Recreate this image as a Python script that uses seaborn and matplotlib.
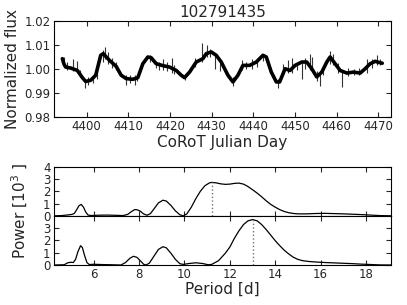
import matplotlib
matplotlib.use('Agg')
import matplotlib.pyplot as plt
import seaborn as sns
import pandas as pd

# light curve: trend
lc_time = [4394.2, 4394.6, 4395.0, 4396.2, 4397.8, 4399.0, 4399.8, 4401.0, 4402.2, 4403.4,
           4404.0, 4405.5, 4407.1, 4408.3, 4409.5, 4411.1, 4412.3, 4413.5, 4414.7, 4415.5,
           4416.7, 4418.3, 4419.9, 4421.5, 4422.7, 4423.5, 4424.7, 4426.3, 4427.9, 4428.7,
           4429.9, 4431.1, 4432.3, 4433.9, 4435.1, 4436.3, 4437.5, 4439.1, 4440.7, 4442.3,
           4443.1, 4444.3, 4445.5, 4446.3, 4447.6, 4448.8, 4450.0, 4451.6, 4452.8, 4454.0,
           4455.2, 4456.4, 4457.6, 4458.4, 4459.6, 4460.8, 4462.4, 4464.0, 4465.6, 4466.8,
           4468.0, 4469.2, 4470.4, 4470.9]
lc_flux = [1.0043, 1.0020, 1.0008, 1.0004, 0.9994, 0.9964, 0.9948, 0.9953, 0.9974, 1.0057,
           1.0064, 1.0036, 1.0011, 0.9974, 0.9960, 0.9957, 0.9964, 1.0022, 1.0050, 1.0047,
           1.0022, 1.0014, 1.0008, 0.9994, 0.9974, 0.9964, 0.9987, 1.0029, 1.0043, 1.0064,
           1.0071, 1.0057, 1.0029, 0.9974, 0.9946, 0.9974, 1.0015, 1.0015, 1.0029, 1.0057,
           1.0050, 0.9987, 0.9946, 0.9946, 1.0001, 0.9994, 1.0015, 1.0029, 1.0029, 1.0001,
           0.9967, 0.9987, 1.0029, 1.0050, 1.0022, 0.9994, 0.9983, 0.9987, 0.9983, 1.0001,
           1.0022, 1.0032, 1.0026, 1.0024]

# scatter spikes seen around the trend (time, low, high)
spike_t = [4394.6, 4395.4, 4396.8, 4397.6, 4398.4, 4399.6, 4400.4, 4401.6, 4402.6, 4404.0,
           4404.4, 4405.2, 4406.2, 4407.0, 4409.4, 4410.4, 4411.6, 4412.0, 4415.2, 4416.6,
           4417.4, 4418.4, 4419.4, 4420.4, 4421.0, 4423.6, 4426.0, 4427.6, 4428.8, 4429.6,
           4430.8, 4432.0, 4435.0, 4437.2, 4438.2, 4439.6, 4440.8, 4442.4, 4446.0, 4447.2,
           4448.4, 4449.2, 4450.4, 4451.6, 4452.4, 4453.6, 4454.0, 4455.2, 4456.0, 4456.8,
           4458.4, 4459.2, 4460.2, 4461.2, 4462.8, 4464.2, 4465.4, 4467.2, 4468.4, 4469.6,
           4470.4]
spike_lo = [1.0010, 0.9995, 0.9990, 0.9985, 0.9965, 0.9920, 0.9935, 0.9940, 0.9960, 1.0030,
            1.0040, 1.0020, 1.0005, 0.9995, 0.9932, 0.9940, 0.9934, 0.9950, 1.0030, 1.0005,
            0.9995, 0.9995, 0.9990, 0.9985, 0.9980, 0.9955, 1.0010, 1.0030, 1.0050, 1.0050,
            1.0000, 0.9990, 0.9930, 0.9995, 1.0000, 1.0000, 1.0010, 1.0035, 0.9920, 0.9975,
            0.9985, 0.9985, 0.9995, 0.9960, 1.0000, 0.9995, 0.9990, 0.9950, 0.9930, 0.9975,
            1.0020, 1.0015, 0.9985, 0.9925, 0.9970, 0.9975, 0.9975, 0.9985, 1.0005, 1.0015,
            1.0015]
spike_hi = [1.0050, 1.0030, 1.0043, 1.0035, 0.9995, 0.9960, 0.9965, 0.9975, 0.9995, 1.0080,
            1.0092, 1.0070, 1.0045, 1.0030, 0.9975, 0.9975, 0.9975, 0.9980, 1.0060, 1.0035,
            1.0030, 1.0043, 1.0030, 1.0046, 1.0015, 0.9980, 1.0046, 1.0110, 1.0099, 1.0085,
            1.0060, 1.0035, 0.9965, 1.0036, 1.0030, 1.0040, 1.0040, 1.0060, 0.9960, 1.0020,
            1.0036, 1.0046, 1.0030, 1.0025, 1.0045, 1.0064, 1.0050, 0.9990, 0.9975, 1.0010,
            1.0074, 1.0064, 1.0025, 0.9990, 1.0005, 1.0000, 1.0005, 1.0043, 1.0040, 1.0057,
            1.0040]

# periodograms
per_a = [4.25, 4.6, 4.9, 5.05, 5.15, 5.25, 5.35, 5.45, 5.55, 5.65, 5.75, 5.9, 6.2, 6.6, 7.0,
         7.3, 7.5, 7.65, 7.8, 7.9, 8.05, 8.2, 8.35, 8.5, 8.65, 8.85, 9.05, 9.2, 9.4, 9.6,
         9.8, 9.95, 10.1, 10.3, 10.5, 10.7, 10.9, 11.1, 11.2, 11.4, 11.6, 11.8, 12.0, 12.2,
         12.4, 12.6, 12.8, 13.0, 13.2, 13.4, 13.6, 13.8, 14.0, 14.2, 14.4, 14.6, 14.8, 15.0,
         15.4, 15.8, 16.2, 16.6, 17.0, 17.4, 17.8, 18.2, 18.6, 19.1]
pow_a = [0.0, 0.02, 0.08, 0.12, 0.2, 0.5, 0.82, 0.93, 0.7, 0.3, 0.06, 0.02, 0.05, 0.06, 0.04,
         0.02, 0.12, 0.33, 0.5, 0.5, 0.38, 0.15, 0.05, 0.18, 0.55, 1.05, 1.27, 1.2, 0.85, 0.4,
         0.08, 0.0, 0.15, 0.7, 1.4, 2.0, 2.45, 2.68, 2.72, 2.68, 2.6, 2.56, 2.58, 2.64,
         2.66, 2.58, 2.38, 2.12, 1.85, 1.55, 1.22, 0.93, 0.7, 0.5, 0.35, 0.25, 0.19, 0.16,
         0.16, 0.19, 0.2, 0.18, 0.16, 0.13, 0.1, 0.06, 0.02, 0.0]
per_b = [4.25, 4.7, 4.85, 5.0, 5.1, 5.2, 5.3, 5.42, 5.5, 5.6, 5.7, 5.8, 6.0, 6.3, 6.8, 7.2,
         7.4, 7.6, 7.75, 7.9, 8.05, 8.2, 8.3, 8.45, 8.65, 8.85, 9.05, 9.2, 9.4, 9.6, 9.8,
         9.95, 10.2, 10.5, 10.8, 11.05, 11.2, 11.5, 11.8, 12.0, 12.2, 12.4, 12.6, 12.8, 13.0,
         13.2, 13.4, 13.6, 13.8, 14.0, 14.2, 14.4, 14.6, 14.8, 15.0, 15.2, 15.5, 15.8, 16.2,
         16.6, 17.0, 17.4, 17.8, 18.2, 18.6, 19.1]
pow_b = [0.0, 0.02, 0.18, 0.22, 0.2, 0.45, 1.05, 1.55, 1.4, 0.75, 0.2, 0.04, 0.06, 0.04, 0.02, 0.0,
         0.2, 0.55, 0.7, 0.62, 0.35, 0.06, 0.0, 0.15, 0.7, 1.25, 1.47, 1.38, 0.95, 0.45, 0.1,
         0.05, 0.12, 0.18, 0.12, 0.02, 0.05, 0.35, 0.95, 1.45, 2.15, 2.75, 3.25, 3.55, 3.65,
         3.55, 3.25, 2.85, 2.4, 1.95, 1.55, 1.18, 0.88, 0.62, 0.45, 0.35, 0.28, 0.24, 0.2,
         0.17, 0.14, 0.11, 0.07, 0.04, 0.01, 0.0]
peak_a = 11.19
peak_b = 13.0

sns.set_style('ticks')
plt.rcParams.update({
    'font.family': ['DejaVu Sans'],
    'xtick.direction': 'in', 'ytick.direction': 'in',
    'xtick.top': True, 'ytick.right': True,
    'xtick.major.size': 3.5, 'ytick.major.size': 3.5,
    'xtick.major.pad': 2.5, 'ytick.major.pad': 2.5,
    'xtick.labelsize': 8.5, 'ytick.labelsize': 8.5,
    'axes.labelsize': 11, 'axes.titlesize': 11,
    'axes.edgecolor': 'black', 'axes.linewidth': 0.8,
})

fig = plt.figure(figsize=(4.07, 3.05), dpi=100)
ax1 = fig.add_axes([0.1327, 0.6164, 0.828, 0.3148])
ax2 = fig.add_axes([0.1327, 0.2924, 0.828, 0.1612])
ax3 = fig.add_axes([0.1327, 0.1311, 0.828, 0.1612])

lc = pd.DataFrame({'t': lc_time, 'f': lc_flux})
ax1.vlines(spike_t, spike_lo, spike_hi, color='0.2', lw=0.8)
sns.lineplot(data=lc, x='t', y='f', ax=ax1, color='black', lw=2.6)
ax1.set_xlim(4392.2, 4473)
ax1.set_ylim(0.98, 1.02)
ax1.set_yticks([0.98, 0.99, 1.00, 1.01, 1.02])
ax1.set_yticklabels(['0.98', '0.99', '1.00', '1.01', '1.02'])
ax1.set_xticks(range(4400, 4471, 10))
ax1.set_xlabel('CoRoT Julian Day', labelpad=1)
ax1.set_ylabel('Normalized flux', labelpad=3)
ax1.set_title('102791435', pad=3)

pa = pd.DataFrame({'p': per_a, 'pw': pow_a})
pb = pd.DataFrame({'p': per_b, 'pw': pow_b})
sns.lineplot(data=pa, x='p', y='pw', ax=ax2, color='black', lw=0.9)
sns.lineplot(data=pb, x='p', y='pw', ax=ax3, color='black', lw=0.9)
ax2.vlines(peak_a, 0, 2.72, color='0.45', lw=1.0, linestyles=':')
ax3.vlines(peak_b, 0, 3.65, color='0.45', lw=1.0, linestyles=':')
for ax in (ax2, ax3):
    ax.set_xlim(4.25, 19.1)
    ax.set_xticks(range(6, 19, 2))
    ax.set_xlabel('')
    ax.set_ylabel('')
ax2.set_ylim(0, 4)
ax2.set_yticks([0, 1, 2, 3, 4])
ax2.tick_params(labelbottom=False)
ax3.set_ylim(0, 3.95)
ax3.set_yticks([0, 1, 2, 3])
ax3.set_xlabel('Period [d]', labelpad=0)
fig.text(0.048, 0.307, r'Power [10$^3$ ]', rotation=90, ha='center', va='center', fontsize=11)

fig.savefig('out.png', dpi=100)
